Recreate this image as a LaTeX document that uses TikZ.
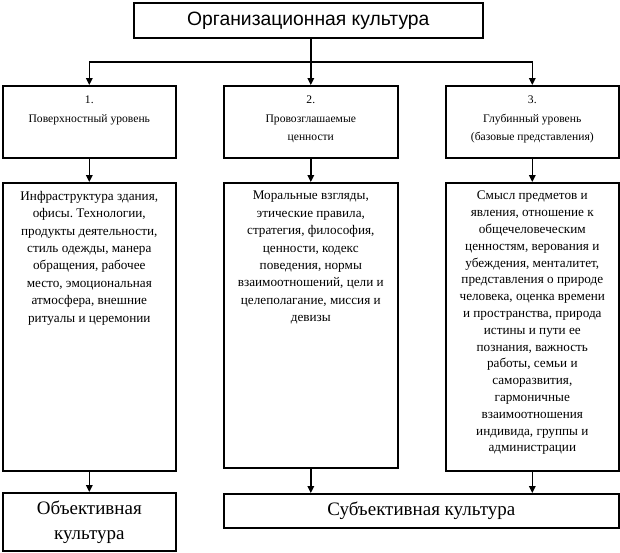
\documentclass[tikz,border=0pt]{standalone}
\usepackage{fontspec}
\setmainfont{Liberation Serif}
\setsansfont{Liberation Sans}
\frenchspacing
\usetikzlibrary{arrows.meta, positioning}

\tikzset{
	box/.style={draw, line width=1.6pt, rectangle, inner sep=0pt, anchor=north west},
	link/.style={line width=1.6pt},
	arr/.style={link, -{Triangle[length=7pt, width=6.5pt]}},
	lvltext/.style={align=center, inner sep=0pt, font=\fontsize{11.6}{18.5}\selectfont},
	conttext/.style={align=center, inner sep=0pt, font=\fontsize{13.2}{17.4}\selectfont},
}

\begin{document}
\begin{tikzpicture}[x=1pt, y=-1pt]
	% frame
	\useasboundingbox (0,0) rectangle (620,552);

	% top box
	\node[box, minimum width=349pt, minimum height=35pt] (org) at (133,2)
		{\sffamily\fontsize{19.3}{21}\selectfont Организационная культура};

	% levels
	\node[box, minimum width=173pt, minimum height=72pt] (lvl1) at (2,85) {};
	\node[box, minimum width=174pt, minimum height=72pt] (lvl2) at (223,85) {};
	\node[box, minimum width=173pt, minimum height=72pt] (lvl3) at (445,85) {};
	\node[lvltext, below=11pt of lvl1.north] (lvl1txt) {1.\\Поверхностный уровень};
	\node[lvltext, below=11pt of lvl2.north] (lvl2txt) {2.\\Провозглашаемые\\ценности};
	\node[lvltext, below=11pt of lvl3.north] (lvl3txt) {3.\\Глубинный уровень\\(базовые представления)};

	% contents
	\node[box, minimum width=173pt, minimum height=288pt] (cont1) at (2,182) {};
	\node[box, minimum width=174pt, minimum height=285pt] (cont2) at (223,182) {};
	\node[box, minimum width=173pt, minimum height=288pt] (cont3) at (445,182) {};
	\node[conttext, below=9pt of cont1.north] (cont1txt)
		{Инфраструктура здания,\\офисы. Технологии,\\продукты деятельности,\\стиль одежды, манера\\обращения, рабочее\\место, эмоциональная\\атмосфера, внешние\\ритуалы и церемонии};
	\node[conttext, below=9pt of cont2.north] (cont2txt)
		{Моральные взгляды,\\этические правила,\\стратегия, философия,\\ценности, кодекс\\поведения, нормы\\взаимоотношений, цели и\\целеполагание, миссия и\\девизы};
	\node[conttext, font=\fontsize{13.2}{16.8}\selectfont, below=9pt of cont3.north] (cont3txt)
		{Смысл предметов и\\явления, отношение к\\общечеловеческим\\ценностям, верования и\\убеждения, менталитет,\\представления о природе\\человека, оценка времени\\и пространства, природа\\истины и пути ее\\познания, важность\\работы, семьи и\\саморазвития,\\гармоничные\\взаимоотношения\\индивида, группы и\\администрации};

	% bottom boxes
	\node[box, minimum width=173pt, minimum height=58pt, align=center,
		font=\fontsize{19}{25}\selectfont] (obj) at (2,492) {Объективная\\культура};
	\node[box, minimum width=395pt, minimum height=34pt,
		font=\fontsize{19}{21}\selectfont] (subj) at (223,493) {Субъективная культура};

	% connectors
	\coordinate (split) at (lvl2.north |- 0,62);
	\draw[link] (split |- org.south) -- (split);
	\draw[arr] (split) -| (lvl1.north);
	\draw[arr] (split) -- (lvl2.north);
	\draw[arr] (split) -| (lvl3.north);
	\foreach \i in {1,2,3}
		\draw[arr] (lvl\i.south) -- (cont\i.north);
	\draw[arr] (cont1.south) -- (obj.north);
	\draw[arr] (cont2.south) -- (cont2.south |- subj.north);
	\draw[arr] (cont3.south) -- (cont3.south |- subj.north);
\end{tikzpicture}
\end{document}
